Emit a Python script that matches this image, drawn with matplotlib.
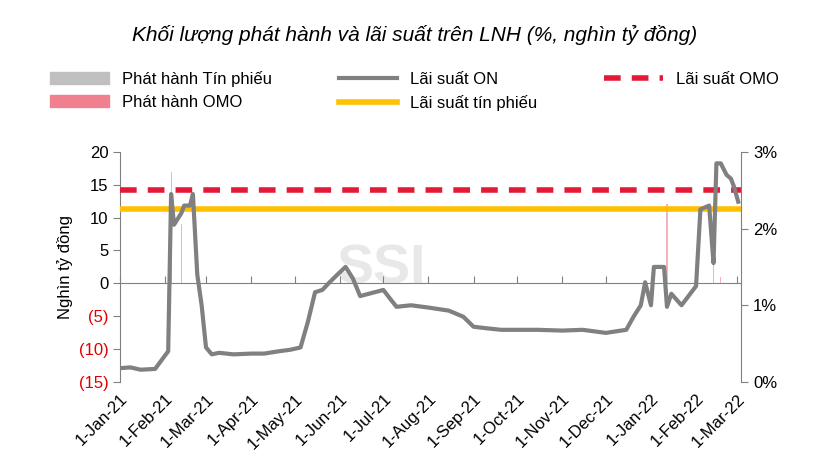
import matplotlib
matplotlib.use("Agg")
import matplotlib.pyplot as plt
import matplotlib.dates as mdates
import matplotlib.transforms as mtrans
import pandas as pd

plt.rcParams['font.family'] = 'Liberation Sans'

on_dates = ["2021-01-01","2021-01-08","2021-01-15","2021-01-25","2021-02-01","2021-02-03","2021-02-05",
            "2021-02-07","2021-02-12","2021-02-14","2021-02-18","2021-02-20","2021-02-23","2021-02-26",
            "2021-03-01","2021-03-05","2021-03-10","2021-03-20","2021-04-01","2021-04-10","2021-04-20",
            "2021-04-28","2021-05-05","2021-05-10","2021-05-15","2021-05-20","2021-05-25","2021-06-01",
            "2021-06-05","2021-06-10","2021-06-15","2021-06-25","2021-07-01","2021-07-05","2021-07-10",
            "2021-07-20","2021-08-01","2021-08-15","2021-08-25","2021-09-01","2021-09-10","2021-09-20",
            "2021-10-01","2021-10-15","2021-11-01","2021-11-15","2021-12-01","2021-12-15","2021-12-20",
            "2021-12-25","2021-12-28","2022-01-01","2022-01-03","2022-01-10","2022-01-12","2022-01-15",
            "2022-01-22","2022-01-28","2022-02-01","2022-02-04","2022-02-10","2022-02-12","2022-02-13",
            "2022-02-15","2022-02-18","2022-02-22","2022-02-25","2022-02-27","2022-03-02"]
on_rate = [0.18,0.19,0.16,0.17,0.35,0.40,2.45,
           2.05,2.20,2.30,2.30,2.45,1.40,1.00,
           0.45,0.36,0.38,0.36,0.37,0.37,0.40,
           0.42,0.45,0.78,1.17,1.20,1.30,1.43,
           1.50,1.35,1.12,1.17,1.20,1.10,0.98,
           1.00,0.97,0.93,0.85,0.72,0.70,0.68,
           0.68,0.68,0.67,0.68,0.64,0.68,0.85,
           1.00,1.30,1.00,1.50,1.50,0.98,1.15,
           1.00,1.15,1.25,2.25,2.30,1.80,1.55,
           2.85,2.85,2.70,2.65,2.55,2.35]

omo_dates = ["2021-02-05","2021-02-12","2022-01-12","2022-02-13","2022-02-18"]
omo_issue = [17, 9, 12, 6, 1]

rate_tinphieu = 2.25
rate_omo = 2.5

left_ticks = [20, 15, 10, 5, 0, -5, -10, -15]
left_labels = ["20","15","10","5","0","(5)","(10)","(15)"]
right_ticks = [0, 1, 2, 3]
right_labels = ["0%","1%","2%","3%"]

fig = plt.figure(figsize=(8.29, 4.63), dpi=100)
ax = fig.add_axes([0.145, 0.175, 0.749, 0.497])
ax2 = ax.twinx()

xmin, xmax = pd.Timestamp("2021-01-01"), pd.Timestamp("2022-03-04")
od = pd.to_datetime(omo_dates)
ax.bar(od, omo_issue, width=0.8, color="#f08090", alpha=0.6, zorder=1)
ax.set_ylim(-15, 20)
ax.set_xlim(xmin, xmax)
ax.set_yticks(left_ticks)
ax.set_yticklabels(left_labels, fontsize=12)
ax.set_ylabel("Nghìn tỷ đồng", fontsize=12)
ax.spines['top'].set_visible(False)
ax.spines['right'].set_visible(False)
ax.spines['left'].set_color("#808080")
ax.spines['bottom'].set_position(('data', 0))
ax.spines['bottom'].set_color("#808080")
ax.tick_params(axis='y', colors="#808080", length=5)
for t, v in zip(ax.get_yticklabels(), left_ticks):
    t.set_color("#e00000" if v < 0 else "black")
months = pd.date_range("2021-01-01", "2022-03-01", freq="MS")
ax.set_xticks(months)
ax.tick_params(axis='x', direction='in', length=5, colors="#808080", labelbottom=False)
trans = mtrans.blended_transform_factory(ax.transData, ax.transAxes)
for m in months:
    ax.text(m, -0.04, f"{m.day}-{m.strftime('%b-%y')}", transform=trans, rotation=45,
            ha='right', va='top', rotation_mode='anchor', fontsize=12)

ax2.plot(pd.to_datetime(on_dates), on_rate, color="#808080", lw=3, zorder=3)
ax2.axhline(rate_tinphieu, color="#ffc000", lw=4, zorder=2)
ax2.axhline(rate_omo, color="#e31937", lw=4, ls=(0, (3, 2)), zorder=2)
ax2.set_ylim(0, 3)
ax2.set_yticks(right_ticks)
ax2.set_yticklabels(right_labels, fontsize=12)
ax2.spines['top'].set_visible(False)
ax2.spines['left'].set_visible(False)
ax2.spines['bottom'].set_visible(False)
ax2.spines['right'].set_color("#808080")
ax2.tick_params(axis='y', colors="#808080", labelcolor="black", length=5)

ax.text(0.42, 0.6, "SSI", transform=ax.transAxes, fontsize=40, fontweight='bold',
        color="#e8e8e8", ha='center', va='top', zorder=0)

from matplotlib.patches import Patch
from matplotlib.lines import Line2D
handles = [Patch(color="#c0c0c0"), Patch(color="#f08090"),
           Line2D([], [], color="#808080", lw=3),
           Line2D([], [], color="#ffc000", lw=4),
           Line2D([], [], color="#e31937", lw=4, ls=(0, (3, 2)))]
order = ["Phát hành Tín phiếu", "Phát hành OMO", "Lãi suất ON", "Lãi suất tín phiếu", "Lãi suất OMO"]
fig.legend(handles, order, ncol=3, loc='upper center', bbox_to_anchor=(0.5, 0.88),
           frameon=False, fontsize=12, columnspacing=4, handlelength=3.5)
fig.text(0.5, 0.925, "Khối lượng phát hành và lãi suất trên LNH (%, nghìn tỷ đồng)",
         ha='center', va='center', fontsize=15, style='italic')
fig.savefig("out.png", dpi=100)
